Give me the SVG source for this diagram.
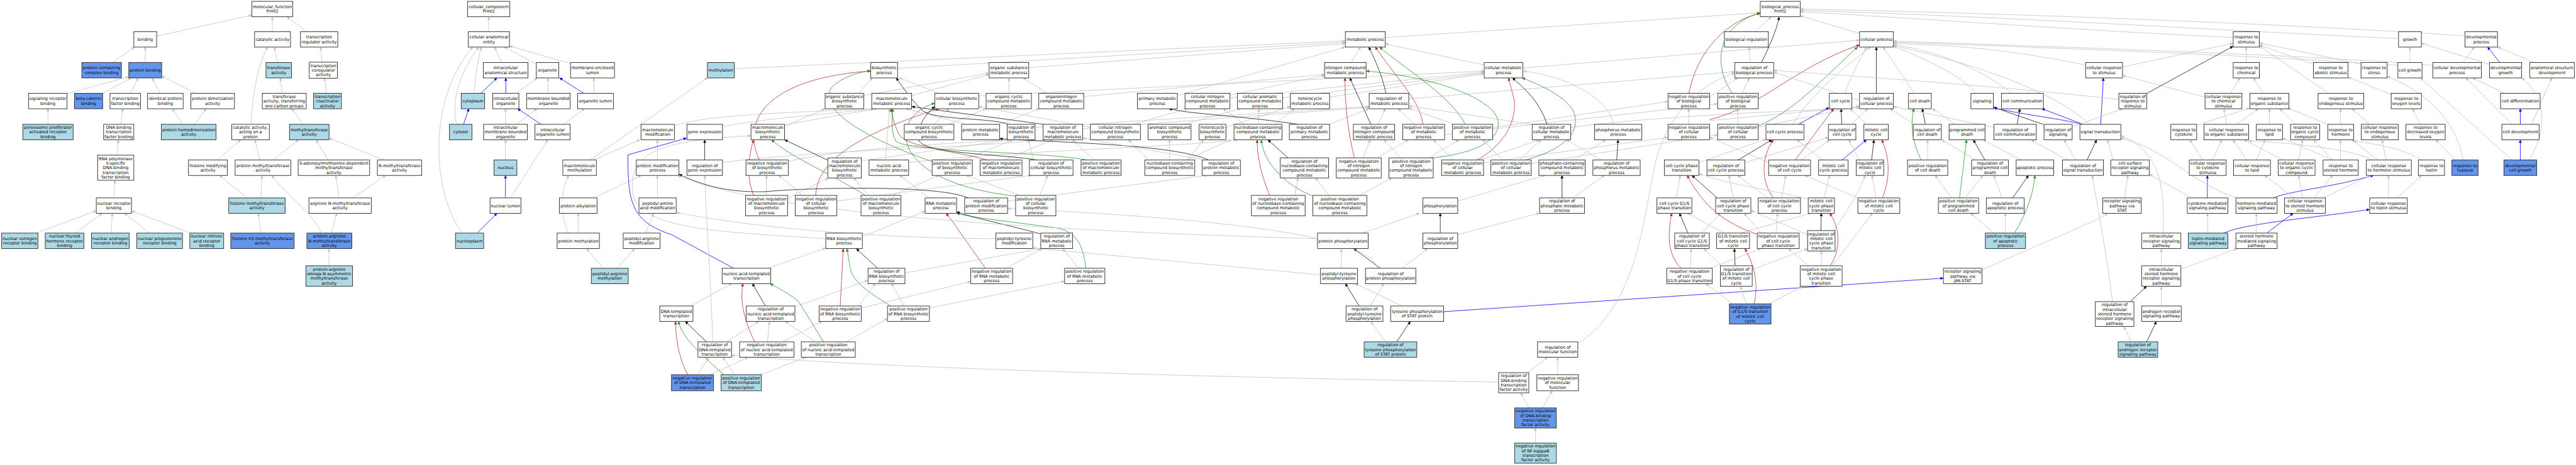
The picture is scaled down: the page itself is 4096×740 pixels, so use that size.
<svg xmlns="http://www.w3.org/2000/svg" width="4096" height="740" viewBox="0 0 4096 740">
<defs>
<style>
text{font-family:"DejaVu Sans","Liberation Sans",sans-serif;font-size:12.2px;text-anchor:middle;fill:#000}
rect{fill:#fff;stroke:#1a1a1a;stroke-width:1.6}
rect.l{fill:#add8e6}
rect.c{fill:#6495ed}
path{fill:none;stroke-width:1.6}
.e{stroke:#c4c4c4;marker-end:url(#mg)}
.k{stroke:#000;stroke-width:1.4;marker-end:url(#mk)}
.r{stroke:#b22222;stroke-width:1.4;marker-end:url(#mr)}
.g{stroke:#228b22;stroke-width:1.4;marker-end:url(#mgr)}
.b{stroke:#0000ff;stroke-width:1.5;marker-end:url(#mb)}
</style>
<marker id="mg" viewBox="0 0 10 10" refX="10" refY="5" markerWidth="13" markerHeight="9" markerUnits="userSpaceOnUse" orient="auto"><path d="M0,0L10,5L0,10z" style="fill:#c4c4c4;stroke:none"/></marker>
<marker id="mk" viewBox="0 0 10 10" refX="10" refY="5" markerWidth="13" markerHeight="9" markerUnits="userSpaceOnUse" orient="auto"><path d="M0,0L10,5L0,10z" style="fill:#000;stroke:none"/></marker>
<marker id="mr" viewBox="0 0 10 10" refX="10" refY="5" markerWidth="13" markerHeight="9" markerUnits="userSpaceOnUse" orient="auto"><path d="M0,0L10,5L0,10z" style="fill:#b22222;stroke:none"/></marker>
<marker id="mgr" viewBox="0 0 10 10" refX="10" refY="5" markerWidth="13" markerHeight="9" markerUnits="userSpaceOnUse" orient="auto"><path d="M0,0L10,5L0,10z" style="fill:#228b22;stroke:none"/></marker>
<marker id="mb" viewBox="0 0 10 10" refX="10" refY="5" markerWidth="13" markerHeight="9" markerUnits="userSpaceOnUse" orient="auto"><path d="M0,0L10,5L0,10z" style="fill:#0000ff;stroke:none"/></marker>
</defs>
<rect x="0" y="0" width="4096" height="740" style="fill:#fff;stroke:none"/>
<g transform="scale(0.533333)">
<g id="connectors">
<path class="e" d="M467,108L751,45"/>
<path class="e" d="M812,95L812,50"/>
<path class="e" d="M916,95L855,50"/>
<path class="e" d="M335,187L401,140"/>
<path class="e" d="M433,187L433,140"/>
<path class="e" d="M200,279L384,229"/>
<path class="e" d="M306,279L392,232"/>
<path class="e" d="M389,279L412,232"/>
<path class="e" d="M478,279L453,232"/>
<path class="e" d="M584,279L482,227"/>
<path class="e" d="M827,187L818,140"/>
<path class="e" d="M749,371C752,280 770,190 798,140"/>
<path class="e" d="M960,186L956,140"/>
<path class="e" d="M973,279L968,232"/>
<path class="e" d="M841,279L836,232"/>
<path class="e" d="M143,371L143,324"/>
<path class="e" d="M360,371L366,324"/>
<path class="e" d="M545,371L514,324"/>
<path class="e" d="M580,371L615,324"/>
<path class="e" d="M903,371L870,324"/>
<path class="e" d="M349,463L353,417"/>
<path class="e" d="M647,478L718,417"/>
<path class="e" d="M775,478L760,417"/>
<path class="e" d="M814,478L890,417"/>
<path class="e" d="M979,478L942,417"/>
<path class="e" d="M1147,478L981,412"/>
<path class="e" d="M339,591L343,538"/>
<path class="e" d="M737,591L654,523"/>
<path class="e" d="M778,591L781,523"/>
<path class="e" d="M1011,591L1001,523"/>
<path class="e" d="M1051,591L1150,523"/>
<path class="e" d="M109,695L287,629"/>
<path class="e" d="M225,695L305,636"/>
<path class="e" d="M331,695L335,636"/>
<path class="e" d="M445,695L371,636"/>
<path class="e" d="M567,695L392,629"/>
<path class="e" d="M778,695L770,636"/>
<path class="e" d="M957,695C940,640 850,580 810,523"/>
<path class="e" d="M988,695L1004,636"/>
<path class="e" d="M981,793L981,742"/>
<path class="e" d="M1457,95L1457,50"/>
<path class="e" d="M1495,187L1474,140"/>
<path class="e" d="M1600,192L1503,140"/>
<path class="e" d="M1702,190L1519,137"/>
<path class="e" d="M1413,279C1418,220 1425,180 1435,140"/>
<path class="e" d="M1362,371C1340,300 1380,200 1428,140"/>
<path class="e" d="M1378,695C1290,580 1270,300 1410,140"/>
<path class="b" d="M1508,279L1508,232"/>
<path class="b" d="M1433,279L1482,232"/>
<path class="e" d="M1539,279L1602,232"/>
<path class="e" d="M1634,279L1634,232"/>
<path class="b" d="M1741,279L1668,232"/>
<path class="e" d="M1772,279L1770,232"/>
<path class="b" d="M1382,371L1398,324"/>
<path class="e" d="M1507,371L1507,324"/>
<path class="e" d="M1540,371L1602,324"/>
<path class="b" d="M1613,371L1543,324"/>
<path class="e" d="M1680,371L1743,324"/>
<path class="e" d="M1507,478L1507,417"/>
<path class="b" d="M1507,591L1507,523"/>
<path class="e" d="M1522,591L1633,417"/>
<path class="b" d="M1423,695L1482,636"/>
<path class="e" d="M1768,478L1908,417"/>
<path class="e" d="M1758,478L2109,232"/>
<path class="e" d="M1960,478L1960,417"/>
<path class="e" d="M2011,376C2100,340 2400,335 2608,324"/>
<path class="e" d="M2154,378C2300,350 2500,338 2615,324"/>
<path class="e" d="M2339,372L2605,326"/>
<path class="e" d="M2339,378L2460,324"/>
<path class="e" d="M2560,279L2601,232"/>
<path class="e" d="M2575,285L2949,218"/>
<path class="k" d="M2101,478L2101,417"/>
<path class="e" d="M2154,485C2400,450 2900,440 3118,417"/>
<path class="r" d="M2264,478C2200,340 2320,230 2596,212"/>
<path class="e" d="M2350,482C2500,445 2800,430 3010,417"/>
<path class="k" d="M2468,478L2339,417"/>
<path class="e" d="M2568,480L3012,417"/>
<path class="r" d="M2247,583C2225,530 2230,470 2247,417"/>
<path class="e" d="M2285,583L2285,523"/>
<path class="e" d="M2348,592L2470,531"/>
<path class="r" d="M2432,583C2435,480 2560,400 2800,324"/>
<path class="e" d="M2394,583L2321,523"/>
<path class="e" d="M2495,600L3075,523"/>
<path class="e" d="M1770,591L1913,523"/>
<path class="e" d="M1724,695L1724,636"/>
<path class="e" d="M1694,695C1670,640 1670,570 1696,523"/>
<path class="e" d="M1960,591L1960,523"/>
<path class="e" d="M1925,695L1949,636"/>
<path class="e" d="M1799,801L1749,742"/>
<path class="e" d="M1839,801L1892,742"/>
<path class="e" d="M2288,801L2462,740"/>
<path class="b" d="M2188,801L2002,700C1880,661 1872,600 1872,462L2047,412"/>
<path class="e" d="M2462,712C2100,690 1885,680 1885,560C1885,460 1950,420 2239,405"/>
<path class="e" d="M2571,706L2758,630"/>
<path class="e" d="M2060,913L2182,846"/>
<path class="k" d="M2282,913L2243,846"/>
<path class="e" d="M2370,916L2588,836"/>
<path class="r" d="M2505,913L2514,742"/>
<path class="e" d="M2560,913L2610,846"/>
<path class="e" d="M2568,919L2894,840"/>
<path class="k" d="M2106,1020L2043,959"/>
<path class="e" d="M2166,1020L2262,959"/>
<path class="e" d="M2125,1020C2118,800 2105,650 2101,523"/>
<path class="r" d="M2250,1020C2220,960 2205,900 2215,846"/>
<path class="e" d="M2288,1020L2294,959"/>
<path class="e" d="M2333,1020L2451,959"/>
<path class="g" d="M2455,1020L2382,901C2360,880 2320,860 2296,846"/>
<path class="e" d="M2431,1020L2341,959"/>
<path class="e" d="M2524,1020L2646,950"/>
<path class="r" d="M2050,1118C2020,1060 2015,1000 2014,959"/>
<path class="e" d="M2080,1118L2113,1066"/>
<path class="e" d="M2117,1118L2231,1066"/>
<path class="g" d="M2158,1118C2080,1050 2030,1000 2023,959"/>
<path class="e" d="M2190,1118L2155,1066"/>
<path class="e" d="M2268,1118L2402,1066"/>
<path class="e" d="M4468,1140C3800,1130 2600,1100 2181,1060"/>
<path class="e" d="M2676,204L4011,126"/>
<path class="e" d="M3067,202L4011,130"/>
<path class="e" d="M2189,205L4011,122"/>
<path class="e" d="M2718,285L2949,222"/>
<path class="e" d="M2801,279L2681,232"/>
<path class="e" d="M2918,286L4425,212"/>
<path class="e" d="M3008,279L3008,232"/>
<path class="e" d="M3123,279L3050,232"/>
<path class="e" d="M3231,288L3949,222"/>
<path class="e" d="M3510,285L4011,140"/>
<path class="e" d="M3667,284L3949,225"/>
<path class="e" d="M3667,292L4425,215"/>
<path class="e" d="M3824,292L4425,218"/>
<path class="e" d="M2829,371L2940,324"/>
<path class="e" d="M2785,371L2830,324"/>
<path class="e" d="M2980,371L3099,324"/>
<path class="e" d="M2880,371L2700,324"/>
<path class="k" d="M3007,371C2950,350 2790,360 2750,330C2720,300 2690,260 2672,232"/>
<path class="e" d="M3086,380L4082,318"/>
<path class="k" d="M3110,371C3000,355 2800,330 2718,318"/>
<path class="e" d="M3228,384L4082,320"/>
<path class="e" d="M3380,371L3540,324"/>
<path class="e" d="M3251,380L2918,318"/>
<path class="e" d="M3530,371L3700,324"/>
<path class="e" d="M3655,380L3847,318"/>
<path class="e" d="M3752,371L3753,324"/>
<path class="e" d="M3711,371L3646,324"/>
<path class="e" d="M3800,371L3860,324"/>
<path class="k" d="M3870,371C3700,345 3540,340 3485,324"/>
<path class="e" d="M2709,485C3000,450 3500,440 3690,417"/>
<path class="e" d="M2640,478L2652,324"/>
<path class="g" d="M2779,482C2600,420 2430,330 2480,260C2510,230 2560,215 2596,211"/>
<path class="e" d="M2870,478L3020,417"/>
<path class="r" d="M2944,478C2850,450 2700,440 2680,400C2665,370 2660,345 2656,324"/>
<path class="e" d="M2990,478L3140,417"/>
<path class="k" d="M3094,478C3000,460 2760,460 2740,420C2730,380 2760,340 2787,318"/>
<path class="e" d="M3082,478L3066,417"/>
<path class="g" d="M3244,478C3100,450 2700,455 2670,420C2655,390 2660,350 2662,324"/>
<path class="e" d="M3262,478L3197,417"/>
<path class="e" d="M3535,478L3670,417"/>
<path class="e" d="M3487,478L3487,417"/>
<path class="e" d="M3540,478L3588,417"/>
<path class="e" d="M3425,478L3364,417"/>
<path class="k" d="M3605,478C3500,430 3150,425 2980,414"/>
<path class="e" d="M3595,478L3228,412"/>
<path class="k" d="M3840,471L3780,417"/>
<path class="g" d="M2580,583C2480,520 2360,470 2300,417"/>
<path class="e" d="M2590,583L2545,531"/>
<path class="e" d="M2660,583L2800,523"/>
<path class="e" d="M2772,591L2682,523"/>
<path class="k" d="M2887,591C2800,550 2400,560 2280,572C2150,575 2080,545 2024,520"/>
<path class="e" d="M3004,600L3600,523"/>
<path class="g" d="M3027,585C2800,560 2700,480 2700,400C2700,360 2740,320 2787,308"/>
<path class="e" d="M3101,583L3123,523"/>
<path class="e" d="M3040,583L2880,523"/>
<path class="r" d="M3785,583C3760,520 3748,470 3748,417"/>
<path class="e" d="M3860,583L3870,531"/>
<path class="r" d="M2938,801L2858,687C2845,665 2830,650 2821,636"/>
<path class="e" d="M2999,801L3107,742"/>
<path class="g" d="M3237,801C3230,720 3200,690 3150,680C3000,660 2900,650 2852,636"/>
<path class="e" d="M3217,801L3168,742"/>
<path class="k" d="M3103,698C3000,670 2900,650 2852,632"/>
<path class="k" d="M2617,801L2553,742"/>
<path class="e" d="M2699,814L3103,742"/>
<path class="e" d="M2695,913L2658,846"/>
<path class="g" d="M2656,913C2600,880 2540,840 2535,800L2525,742"/>
<path class="e" d="M2771,919L3174,839"/>
<path class="e" d="M2969,712C2700,712 2300,690 2016,634"/>
<path class="e" d="M3928,712C3300,695 2300,650 2020,523"/>
<path class="e" d="M4028,187L4056,140"/>
<path class="e" d="M4425,194L4130,131"/>
<path class="e" d="M4540,203L5544,120"/>
<path class="e" d="M3964,290L4425,220"/>
<path class="k" d="M4132,279C4120,220 4095,170 4081,140"/>
<path class="e" d="M4200,295L5172,214"/>
<path class="e" d="M3964,371L4081,324"/>
<path class="k" d="M4087,371L4024,232"/>
<path class="e" d="M4109,371L4130,324"/>
<path class="r" d="M4242,371C4235,300 4160,230 4100,140"/>
<path class="e" d="M4217,371L4168,324"/>
<path class="e" d="M4307,402L4973,303"/>
<path class="g" d="M4369,371C4320,280 4180,200 4113,140"/>
<path class="e" d="M4335,371L4200,322"/>
<path class="e" d="M4450,385L5121,310"/>
<path class="k" d="M4612,371C4590,300 4540,260 4509,232"/>
<path class="e" d="M4568,371L4200,316"/>
<path class="e" d="M4683,380C5000,340 5400,330 5544,322"/>
<path class="e" d="M4811,371C4790,280 4650,225 4542,212"/>
<path class="e" d="M5097,360L5544,318"/>
<path class="e" d="M5035,371L5035,324"/>
<path class="r" d="M5097,357C5250,320 5350,200 5544,134"/>
<path class="r" d="M4038,471C4015,380 4010,300 4010,232"/>
<path class="e" d="M4064,471L4085,417"/>
<path class="e" d="M4105,471L4199,417"/>
<path class="g" d="M4268,471C4440,455 4500,390 4450,330C4380,260 4200,222 4073,212"/>
<path class="e" d="M4175,471L4126,417"/>
<path class="e" d="M4260,471L4350,417"/>
<path class="r" d="M4403,478C4470,440 4520,380 4515,300L4497,232"/>
<path class="e" d="M4334,478L4273,417"/>
<path class="e" d="M4410,478L4590,417"/>
<path class="e" d="M4423,485L4973,410"/>
<path class="g" d="M4546,478C4650,450 4720,400 4690,330C4660,280 4580,250 4538,232"/>
<path class="e" d="M4530,478L4595,417"/>
<path class="e" d="M4481,478L4420,417"/>
<path class="e" d="M4565,488L5121,402"/>
<path class="e" d="M4693,478L4787,417"/>
<path class="k" d="M4820,478L4824,417"/>
<path class="e" d="M4775,478L4669,417"/>
<path class="e" d="M5065,485L5265,415"/>
<path class="k" d="M5181,478L5283,417"/>
<path class="e" d="M5202,485L5451,410"/>
<path class="g" d="M3914,585C3850,560 3770,500 3760,417"/>
<path class="e" d="M3962,583L3922,531"/>
<path class="e" d="M4052,583L4150,531"/>
<path class="e" d="M4346,600L4607,523"/>
<path class="k" d="M4657,591L4657,523"/>
<path class="e" d="M4689,591L4783,523"/>
<path class="e" d="M4998,591L5009,523"/>
<path class="k" d="M5120,591L5044,523"/>
<path class="e" d="M5167,591L5155,523"/>
<path class="e" d="M4064,695L4232,636"/>
<path class="k" d="M4294,695L4294,636"/>
<path class="e" d="M4346,700L4590,636"/>
<path class="k" d="M5032,695L5007,636"/>
<path class="e" d="M5073,695L5130,636"/>
<path class="e" d="M3999,801L3999,742"/>
<path class="e" d="M3937,820L3079,740"/>
<path class="k" d="M4116,801L4036,742"/>
<path class="e" d="M4179,801L4256,742"/>
<path class="e" d="M4106,801C4090,700 3600,650 3004,622"/>
<path class="k" d="M4052,913L4011,846"/>
<path class="e" d="M4085,913L4126,846"/>
<path class="e" d="M4179,913L4040,846"/>
<path class="b" d="M4304,930L5794,830"/>
<path class="e" d="M4130,1020L4087,959"/>
<path class="k" d="M4164,1020L4205,959"/>
<path class="e" d="M4704,1025C4900,900 4900,600 4945,450C5000,300 5100,240 5172,218"/>
<path class="e" d="M4554,1112L4614,1066"/>
<path class="e" d="M4644,1118L4644,1066"/>
<path class="e" d="M4558,1217L4534,1172"/>
<path class="e" d="M4599,1217L4628,1166"/>
<path class="e" d="M4578,1322L4578,1277"/>
<path class="r" d="M5013,801C4970,760 4972,700 4984,636"/>
<path class="e" d="M5040,801L5042,742"/>
<path class="e" d="M5097,801L5250,742"/>
<path class="e" d="M5232,95L5281,50"/>
<path class="e" d="M5544,100L5367,47"/>
<path class="e" d="M7349,107C6800,70 6000,40 5367,27"/>
<path class="e" d="M7151,115C6600,90 6000,50 5367,31"/>
<path class="e" d="M6658,112C6200,90 5800,60 5367,35"/>
<path class="e" d="M4130,112L5248,38"/>
<path class="r" d="M5035,279C5060,150 5150,60 5248,40"/>
<path class="g" d="M5165,279C5110,200 5110,80 5248,38"/>
<path class="k" d="M5251,187C5280,130 5300,80 5304,50"/>
<path class="e" d="M5218,187L5214,140"/>
<path class="e" d="M5193,279L5216,232"/>
<path class="e" d="M5097,290L5181,232"/>
<path class="k" d="M5594,279L5594,140"/>
<path class="e" d="M5544,300L5288,215"/>
<path class="e" d="M5500,279C5520,220 5545,180 5565,140"/>
<path class="e" d="M5708,279L5614,140"/>
<path class="e" d="M5345,371C5400,280 5500,200 5577,140"/>
<path class="g" d="M5242,376C5350,330 5420,250 5538,140"/>
<path class="e" d="M6218,194C5950,140 5800,135 5645,130"/>
<path class="b" d="M6263,371L6271,232"/>
<path class="e" d="M6328,200L6658,129"/>
<path class="e" d="M5890,279C5850,220 5700,160 5645,138"/>
<path class="e" d="M6000,279C5900,200 5750,145 5645,134"/>
<path class="e" d="M6230,371C6100,250 5800,170 5645,136"/>
<path class="b" d="M5362,371L5453,321"/>
<path class="k" d="M5491,371L5489,324"/>
<path class="e" d="M5518,371L5569,324"/>
<path class="e" d="M5565,371L5516,324"/>
<path class="k" d="M5740,371L5731,324"/>
<path class="e" d="M5708,371L5634,324"/>
<path class="e" d="M5830,371L5761,324"/>
<path class="k" d="M6014,371L6022,324"/>
<path class="e" d="M5945,380L5645,318"/>
<path class="k" d="M6091,371L5944,320"/>
<path class="b" d="M6206,371C6150,355 6050,345 5944,322"/>
<path class="b" d="M6210,371L6087,324"/>
<path class="e" d="M5242,380L5544,316"/>
<path class="e" d="M5181,371L5181,324"/>
<path class="r" d="M5352,478L5467,324"/>
<path class="e" d="M5369,478L5455,417"/>
<path class="e" d="M5273,485L5097,410"/>
<path class="e" d="M5434,478L5357,417"/>
<path class="b" d="M5491,478L5565,417"/>
<path class="k" d="M5580,478L5587,417"/>
<path class="e" d="M5544,478L5512,417"/>
<path class="g" d="M5728,478C5700,420 5695,370 5706,324"/>
<path class="e" d="M5747,478L5747,417"/>
<path class="k" d="M5918,478L5883,417"/>
<path class="e" d="M5891,478L5789,417"/>
<path class="e" d="M6026,478L5912,417"/>
<path class="k" d="M6222,478L6251,417"/>
<path class="e" d="M6189,478L6153,417"/>
<path class="e" d="M6165,478L6055,417"/>
<path class="e" d="M6300,478L6283,417"/>
<path class="e" d="M5312,591L5324,523"/>
<path class="e" d="M5271,591L5180,523"/>
<path class="r" d="M5287,591C5250,540 5250,470 5287,417"/>
<path class="e" d="M5438,591L5455,523"/>
<path class="e" d="M5392,594C5300,570 5150,550 5065,518"/>
<path class="e" d="M5593,591L5581,523"/>
<path class="r" d="M5612,591C5640,520 5630,460 5610,417"/>
<path class="e" d="M5540,591L5381,523"/>
<path class="g" d="M5842,591L5863,417"/>
<path class="e" d="M5859,591L5912,523"/>
<path class="e" d="M5818,591L5769,523"/>
<path class="k" d="M6000,591L6048,523"/>
<path class="e" d="M5969,591L5944,523"/>
<path class="e" d="M6334,591L6344,523"/>
<path class="e" d="M5140,695L5030,636"/>
<path class="e" d="M5190,695L5400,636"/>
<path class="e" d="M5295,695L5300,636"/>
<path class="r" d="M5242,700C5150,670 5080,620 5030,523"/>
<path class="e" d="M5250,695L5200,636"/>
<path class="k" d="M5429,688L5430,636"/>
<path class="e" d="M5465,690C5500,640 5540,580 5561,523"/>
<path class="e" d="M5389,700L5220,628"/>
<path class="g" d="M6006,695C6040,640 6062,580 6067,523"/>
<path class="e" d="M5979,695L5979,636"/>
<path class="e" d="M5944,695L5875,636"/>
<path class="k" d="M5173,793L5171,742"/>
<path class="e" d="M5140,800L5080,742"/>
<path class="e" d="M5224,805L5389,742"/>
<path class="e" d="M5392,793L5332,742"/>
<path class="e" d="M5430,793L5430,749"/>
<path class="r" d="M5457,793C5490,740 5485,680 5455,636"/>
<path class="e" d="M5463,793L5583,636"/>
<path class="e" d="M5206,907L5189,854"/>
<path class="e" d="M5275,907L5373,854"/>
<path class="r" d="M5230,907C5245,840 5225,780 5202,742"/>
<path class="e" d="M5165,907L5085,846"/>
<path class="e" d="M5909,805C6100,720 6230,670 6285,636"/>
<path class="e" d="M6298,900C6280,750 6250,600 6238,523"/>
<path class="k" d="M6351,900L6400,854"/>
<path class="e" d="M6354,1020L6332,974"/>
<path class="k" d="M6400,1020L6429,959"/>
<path class="e" d="M6444,913L6444,854"/>
<path class="e" d="M6444,793L6444,742"/>
<path class="e" d="M6502,803L6669,742"/>
<path class="e" d="M6449,695C6455,560 6440,450 6323,405"/>
<path class="e" d="M6583,695L6581,636"/>
<path class="b" d="M6631,695C6700,665 6900,650 7065,625"/>
<path class="e" d="M6727,695L6727,636"/>
<path class="b" d="M6759,695L6837,636"/>
<path class="b" d="M6581,591L6581,523"/>
<path class="e" d="M6535,591L6408,520"/>
<path class="b" d="M6778,591C6820,570 6950,560 7077,523"/>
<path class="e" d="M6669,591C6520,540 6470,450 6323,412"/>
<path class="e" d="M6841,591L6751,523"/>
<path class="e" d="M6865,591L6853,523"/>
<path class="e" d="M6898,591L6955,523"/>
<path class="e" d="M6926,591L7069,523"/>
<path class="e" d="M7121,591L7121,523"/>
<path class="e" d="M7147,591L7220,523"/>
<path class="e" d="M6567,478L6529,417"/>
<path class="e" d="M6596,478L6624,417"/>
<path class="e" d="M6698,478L6657,417"/>
<path class="e" d="M6727,478L6753,417"/>
<path class="e" d="M6808,478L6690,417"/>
<path class="e" d="M6853,478L6865,417"/>
<path class="e" d="M6955,478L6805,412"/>
<path class="e" d="M6955,478L6898,417"/>
<path class="e" d="M6978,478L6978,417"/>
<path class="e" d="M7090,478L7012,417"/>
<path class="e" d="M7114,478L7102,417"/>
<path class="e" d="M7077,478C7000,440 6800,425 6704,420"/>
<path class="e" d="M7220,478C7160,440 7080,430 7017,420"/>
<path class="e" d="M7322,478L7261,417"/>
<path class="e" d="M7343,478C7330,380 7250,280 7117,228"/>
<path class="b" d="M7514,478L7514,417"/>
<path class="e" d="M7490,478L7216,232"/>
<path class="e" d="M7539,478C7590,400 7600,300 7518,232"/>
<path class="b" d="M7514,371L7514,324"/>
<path class="e" d="M7547,371L7608,232"/>
<path class="e" d="M7469,279L7371,232"/>
<path class="e" d="M7490,371L7351,232"/>
<path class="e" d="M7343,187L7377,140"/>
<path class="b" d="M7453,187L7416,140"/>
<path class="e" d="M7422,192L7219,129"/>
<path class="e" d="M7557,187L7446,140"/>
<path class="e" d="M7185,187L7185,140"/>
<path class="e" d="M7149,195C6800,170 6200,145 5645,126"/>
<path class="e" d="M7253,195C6900,165 6200,142 5645,123"/>
<path class="e" d="M7041,192L6736,128"/>
<path class="e" d="M6897,192L6736,134"/>
<path class="e" d="M6697,187L6697,140"/>
<path class="e" d="M6649,279L6678,232"/>
<path class="e" d="M6574,290L6328,225"/>
<path class="e" d="M6747,279L6718,232"/>
<path class="e" d="M6943,279L6736,137"/>
<path class="e" d="M7129,282L7000,230"/>
<path class="e" d="M6549,374L6708,322"/>
<path class="e" d="M6637,371L6631,324"/>
<path class="e" d="M6669,371L6733,324"/>
<path class="e" d="M6766,371L6766,324"/>
<path class="e" d="M6845,371L6796,324"/>
<path class="e" d="M6940,371L6820,322"/>
<path class="e" d="M6978,371L6978,324"/>
<path class="e" d="M7065,371L7012,324"/>
<path class="e" d="M7216,371L7192,324"/>
<path class="k" d="M6400,279L6658,138"/>
<path class="e" d="M6317,297C6000,260 5500,225 5288,210"/>
<path class="e" d="M6178,378L6330,324"/>
</g>
<g id="n-mf" transform="translate(812,27)"><rect x="-61" y="-23" width="122" height="46"/><text y="-2.5"><tspan x="0">molecular_function</tspan><tspan x="0" dy="13.8">Prmt2</tspan></text></g>
<g id="n-binding" transform="translate(433,117.5)"><rect x="-34" y="-23" width="68" height="46"/><text y="4.4">binding</text></g>
<g id="n-catalytic" transform="translate(812.5,117.5)"><rect x="-53.5" y="-23" width="107" height="46"/><text y="4.4">catalytic activity</text></g>
<g id="n-treg" transform="translate(951.5,117.5)"><rect x="-55.5" y="-23" width="111" height="46"/><text y="-2.5"><tspan x="0">transcription</tspan><tspan x="0" dy="13.8">regulator activity</tspan></text></g>
<g id="n-pccb" transform="translate(303,209.5)"><rect class="c" x="-59" y="-23" width="118" height="46"/><text y="-2.5"><tspan x="0">protein-containing</tspan><tspan x="0" dy="13.8">complex binding</tspan></text></g>
<g id="n-pb" transform="translate(433,209.5)"><rect class="c" x="-49" y="-23" width="98" height="46"/><text y="4.4">protein binding</text></g>
<g id="n-transferase" transform="translate(831,209.5)"><rect class="l" x="-38" y="-23" width="76" height="46"/><text y="-2.5"><tspan x="0">transferase</tspan><tspan x="0" dy="13.8">activity</tspan></text></g>
<g id="n-tcoreg" transform="translate(964,209.5)"><rect x="-42" y="-24" width="84" height="48"/><text y="-9.4"><tspan x="0">transcription</tspan><tspan x="0" dy="13.8">coregulator</tspan><tspan x="0" dy="13.8">activity</tspan></text></g>
<g id="n-srb" transform="translate(142.5,301.5)"><rect x="-57.5" y="-23" width="115" height="46"/><text y="-2.5"><tspan x="0">signaling receptor</tspan><tspan x="0" dy="13.8">binding</tspan></text></g>
<g id="n-bcat" transform="translate(264,301.5)"><rect class="c" x="-42" y="-23" width="84" height="46"/><text y="-2.5"><tspan x="0">beta-catenin</tspan><tspan x="0" dy="13.8">binding</tspan></text></g>
<g id="n-tfb" transform="translate(373.5,301.5)"><rect x="-45.5" y="-23" width="91" height="46"/><text y="-2.5"><tspan x="0">transcription</tspan><tspan x="0" dy="13.8">factor binding</tspan></text></g>
<g id="n-ipb" transform="translate(493,301.5)"><rect x="-53" y="-23" width="106" height="46"/><text y="-2.5"><tspan x="0">identical protein</tspan><tspan x="0" dy="13.8">binding</tspan></text></g>
<g id="n-pda" transform="translate(634,301.5)"><rect x="-65" y="-23" width="130" height="46"/><text y="-2.5"><tspan x="0">protein dimerization</tspan><tspan x="0" dy="13.8">activity</tspan></text></g>
<g id="n-t1c" transform="translate(847.5,301.5)"><rect x="-65.5" y="-23" width="131" height="46"/><text y="-9.4"><tspan x="0">transferase</tspan><tspan x="0" dy="13.8">activity, transferring</tspan><tspan x="0" dy="13.8">one-carbon groups</tspan></text></g>
<g id="n-tcoact" transform="translate(976.5,301.5)"><rect class="l" x="-41.5" y="-23" width="83" height="46"/><text y="-9.4"><tspan x="0">transcription</tspan><tspan x="0" dy="13.8">coactivator</tspan><tspan x="0" dy="13.8">activity</tspan></text></g>
<g id="n-ppar" transform="translate(143,394)"><rect class="l" x="-75" y="-23" width="150" height="46"/><text y="-9.4"><tspan x="0">peroxisome proliferator</tspan><tspan x="0" dy="13.8">activated receptor</tspan><tspan x="0" dy="13.8">binding</tspan></text></g>
<g id="n-dbtfb" transform="translate(354,394)"><rect x="-45" y="-23" width="90" height="46"/><text y="-9.4"><tspan x="0">DNA-binding</tspan><tspan x="0" dy="13.8">transcription</tspan><tspan x="0" dy="13.8">factor binding</tspan></text></g>
<g id="n-phd" transform="translate(562.5,394)"><rect class="l" x="-81.5" y="-23" width="163" height="46"/><text y="-2.5"><tspan x="0">protein homodimerization</tspan><tspan x="0" dy="13.8">activity</tspan></text></g>
<g id="n-cap" transform="translate(747,394)"><rect x="-56" y="-23" width="112" height="46"/><text y="-9.4"><tspan x="0">catalytic activity,</tspan><tspan x="0" dy="13.8">acting on a</tspan><tspan x="0" dy="13.8">protein</tspan></text></g>
<g id="n-mta" transform="translate(922,394)"><rect class="l" x="-59" y="-23" width="118" height="46"/><text y="-2.5"><tspan x="0">methyltransferase</tspan><tspan x="0" dy="13.8">activity</tspan></text></g>
<g id="n-rnap2" transform="translate(345,500.5)"><rect x="-54" y="-37.5" width="108" height="75"/><text y="-23.2"><tspan x="0">RNA polymerase</tspan><tspan x="0" dy="13.8">II-specific</tspan><tspan x="0" dy="13.8">DNA-binding</tspan><tspan x="0" dy="13.8">transcription</tspan><tspan x="0" dy="13.8">factor binding</tspan></text></g>
<g id="n-hma" transform="translate(620,500.5)"><rect x="-58" y="-23" width="116" height="46"/><text y="-2.5"><tspan x="0">histone modifying</tspan><tspan x="0" dy="13.8">activity</tspan></text></g>
<g id="n-pmta" transform="translate(784,500.5)"><rect x="-83" y="-23" width="166" height="46"/><text y="-2.5"><tspan x="0">protein methyltransferase</tspan><tspan x="0" dy="13.8">activity</tspan></text></g>
<g id="n-sam" transform="translate(995.5,500.5)"><rect x="-106.5" y="-23" width="213" height="46"/><text y="-9.4"><tspan x="0">S-adenosylmethionine-dependent</tspan><tspan x="0" dy="13.8">methyltransferase</tspan><tspan x="0" dy="13.8">activity</tspan></text></g>
<g id="n-nmta" transform="translate(1191,500.5)"><rect x="-66" y="-23" width="132" height="46"/><text y="-2.5"><tspan x="0">N-methyltransferase</tspan><tspan x="0" dy="13.8">activity</tspan></text></g>
<g id="n-nrb" transform="translate(339.5,613.5)"><rect x="-52.5" y="-23" width="105" height="46"/><text y="-2.5"><tspan x="0">nuclear receptor</tspan><tspan x="0" dy="13.8">binding</tspan></text></g>
<g id="n-hmta" transform="translate(766,613.5)"><rect class="l" x="-84" y="-23" width="168" height="46"/><text y="-2.5"><tspan x="0">histone methyltransferase</tspan><tspan x="0" dy="13.8">activity</tspan></text></g>
<g id="n-anmta" transform="translate(1014,613.5)"><rect x="-93" y="-23" width="186" height="46"/><text y="-2.5"><tspan x="0">arginine N-methyltransferase</tspan><tspan x="0" dy="13.8">activity</tspan></text></g>
<g id="n-neb" transform="translate(59,718.5)"><rect class="l" x="-54" y="-23" width="108" height="46"/><text y="-2.5"><tspan x="0">nuclear estrogen</tspan><tspan x="0" dy="13.8">receptor binding</tspan></text></g>
<g id="n-ntb" transform="translate(192.5,718.5)"><rect class="l" x="-57.5" y="-23" width="115" height="46"/><text y="-9.4"><tspan x="0">nuclear thyroid</tspan><tspan x="0" dy="13.8">hormone receptor</tspan><tspan x="0" dy="13.8">binding</tspan></text></g>
<g id="n-nab" transform="translate(329,718.5)"><rect class="l" x="-56" y="-23" width="112" height="46"/><text y="-2.5"><tspan x="0">nuclear androgen</tspan><tspan x="0" dy="13.8">receptor binding</tspan></text></g>
<g id="n-npb" transform="translate(476,718.5)"><rect class="l" x="-68" y="-23" width="136" height="46"/><text y="-2.5"><tspan x="0">nuclear progesterone</tspan><tspan x="0" dy="13.8">receptor binding</tspan></text></g>
<g id="n-nrab" transform="translate(616.5,718.5)"><rect class="l" x="-50.5" y="-23" width="101" height="46"/><text y="-9.4"><tspan x="0">nuclear retinoic</tspan><tspan x="0" dy="13.8">acid receptor</tspan><tspan x="0" dy="13.8">binding</tspan></text></g>
<g id="n-h3" transform="translate(782.5,718.5)"><rect class="c" x="-94.5" y="-23" width="189" height="46"/><text y="-2.5"><tspan x="0">histone H3 methyltransferase</tspan><tspan x="0" dy="13.8">activity</tspan></text></g>
<g id="n-pan" transform="translate(982,718.5)"><rect class="c" x="-67" y="-23" width="134" height="46"/><text y="-9.4"><tspan x="0">protein-arginine</tspan><tspan x="0" dy="13.8">N-methyltransferase</tspan><tspan x="0" dy="13.8">activity</tspan></text></g>
<g id="n-omega" transform="translate(981.5,823.5)"><rect class="l" x="-69.5" y="-30.5" width="139" height="61"/><text y="-16.3"><tspan x="0">protein-arginine</tspan><tspan x="0" dy="13.8">omega-N asymmetric</tspan><tspan x="0" dy="13.8">methyltransferase</tspan><tspan x="0" dy="13.8">activity</tspan></text></g>
<g id="n-cc" transform="translate(1457,27)"><rect x="-63" y="-23" width="126" height="46"/><text y="-2.5"><tspan x="0">cellular_component</tspan><tspan x="0" dy="13.8">Prmt2</tspan></text></g>
<g id="n-cae" transform="translate(1457.5,117.5)"><rect x="-61.5" y="-23" width="123" height="46"/><text y="-2.5"><tspan x="0">cellular anatomical</tspan><tspan x="0" dy="13.8">entity</tspan></text></g>
<g id="n-ias" transform="translate(1507.5,209.5)"><rect x="-66.5" y="-23" width="133" height="46"/><text y="-2.5"><tspan x="0">intracellular</tspan><tspan x="0" dy="13.8">anatomical structure</tspan></text></g>
<g id="n-organelle" transform="translate(1632.5,209.5)"><rect x="-33.5" y="-23" width="67" height="46"/><text y="4.4">organelle</text></g>
<g id="n-mel" transform="translate(1766.5,209.5)"><rect x="-65.5" y="-23" width="131" height="46"/><text y="-2.5"><tspan x="0">membrane-enclosed</tspan><tspan x="0" dy="13.8">lumen</tspan></text></g>
<g id="n-cytoplasm" transform="translate(1410,301.5)"><rect class="l" x="-35" y="-23" width="70" height="46"/><text y="4.4">cytoplasm</text></g>
<g id="n-io" transform="translate(1508,301.5)"><rect x="-39" y="-23" width="78" height="46"/><text y="-2.5"><tspan x="0">intracellular</tspan><tspan x="0" dy="13.8">organelle</tspan></text></g>
<g id="n-mbo" transform="translate(1635,301.5)"><rect x="-65" y="-23" width="130" height="46"/><text y="-2.5"><tspan x="0">membrane-bounded</tspan><tspan x="0" dy="13.8">organelle</tspan></text></g>
<g id="n-ol" transform="translate(1775.5,301.5)"><rect x="-53.5" y="-23" width="107" height="46"/><text y="4.4">organelle lumen</text></g>
<g id="n-cytosol" transform="translate(1373.5,394)"><rect class="l" x="-33.5" y="-23" width="67" height="46"/><text y="4.4">cytosol</text></g>
<g id="n-imbo" transform="translate(1507,394)"><rect x="-65" y="-23" width="130" height="46"/><text y="-9.4"><tspan x="0">intracellular</tspan><tspan x="0" dy="13.8">membrane-bounded</tspan><tspan x="0" dy="13.8">organelle</tspan></text></g>
<g id="n-iol" transform="translate(1647.5,394)"><rect x="-52.5" y="-23" width="105" height="46"/><text y="-2.5"><tspan x="0">intracellular</tspan><tspan x="0" dy="13.8">organelle lumen</tspan></text></g>
<g id="n-nucleus" transform="translate(1507,500.5)"><rect class="l" x="-34" y="-23" width="68" height="46"/><text y="4.4">nucleus</text></g>
<g id="n-nl" transform="translate(1507,613.5)"><rect x="-46" y="-23" width="92" height="46"/><text y="4.4">nuclear lumen</text></g>
<g id="n-nucleoplasm" transform="translate(1400,718.5)"><rect class="l" x="-42" y="-23" width="84" height="46"/><text y="4.4">nucleoplasm</text></g>
<g id="n-methylation" transform="translate(2149,209.5)"><rect class="l" x="-40" y="-23" width="80" height="46"/><text y="4.4">methylation</text></g>
<g id="n-mm" transform="translate(1961,394)"><rect x="-50" y="-23" width="100" height="46"/><text y="-2.5"><tspan x="0">macromolecule</tspan><tspan x="0" dy="13.8">modification</tspan></text></g>
<g id="n-ge" transform="translate(2101,394)"><rect x="-53" y="-23" width="106" height="46"/><text y="4.4">gene expression</text></g>
<g id="n-mbp" transform="translate(2289,394)"><rect x="-50" y="-23" width="100" height="46"/><text y="-9.4"><tspan x="0">macromolecule</tspan><tspan x="0" dy="13.8">biosynthetic</tspan><tspan x="0" dy="13.8">process</tspan></text></g>
<g id="n-osbp" transform="translate(2517.5,301.5)"><rect x="-57.5" y="-23" width="115" height="46"/><text y="-9.4"><tspan x="0">organic substance</tspan><tspan x="0" dy="13.8">biosynthetic</tspan><tspan x="0" dy="13.8">process</tspan></text></g>
<g id="n-mmeth" transform="translate(1728,500.5)"><rect x="-50" y="-23" width="100" height="46"/><text y="-2.5"><tspan x="0">macromolecule</tspan><tspan x="0" dy="13.8">methylation</tspan></text></g>
<g id="n-pmp" transform="translate(1960.5,500.5)"><rect x="-63.5" y="-23" width="127" height="46"/><text y="-2.5"><tspan x="0">protein modification</tspan><tspan x="0" dy="13.8">process</tspan></text></g>
<g id="n-rge" transform="translate(2101,500.5)"><rect x="-53" y="-23" width="106" height="46"/><text y="-2.5"><tspan x="0">regulation of</tspan><tspan x="0" dy="13.8">gene expression</tspan></text></g>
<g id="n-nrbp" transform="translate(2287,500.5)"><rect x="-63" y="-23" width="126" height="46"/><text y="-9.4"><tspan x="0">negative regulation</tspan><tspan x="0" dy="13.8">of biosynthetic</tspan><tspan x="0" dy="13.8">process</tspan></text></g>
<g id="n-rmbp" transform="translate(2518,501)"><rect x="-50" y="-30" width="100" height="60"/><text y="-16.3"><tspan x="0">regulation of</tspan><tspan x="0" dy="13.8">macromolecule</tspan><tspan x="0" dy="13.8">biosynthetic</tspan><tspan x="0" dy="13.8">process</tspan></text></g>
<g id="n-palk" transform="translate(1724,613.5)"><rect x="-56" y="-23" width="112" height="46"/><text y="4.4">protein alkylation</text></g>
<g id="n-pamm" transform="translate(1960.5,613.5)"><rect x="-55.5" y="-23" width="111" height="46"/><text y="-2.5"><tspan x="0">peptidyl-amino</tspan><tspan x="0" dy="13.8">acid modification</tspan></text></g>
<g id="n-nrmbp" transform="translate(2285.5,613.5)"><rect x="-62.5" y="-30.5" width="125" height="61"/><text y="-16.3"><tspan x="0">negative regulation</tspan><tspan x="0" dy="13.8">of macromolecule</tspan><tspan x="0" dy="13.8">biosynthetic</tspan><tspan x="0" dy="13.8">process</tspan></text></g>
<g id="n-nrcbp" transform="translate(2433,613.5)"><rect x="-62" y="-30.5" width="124" height="61"/><text y="-16.3"><tspan x="0">negative regulation</tspan><tspan x="0" dy="13.8">of cellular</tspan><tspan x="0" dy="13.8">biosynthetic</tspan><tspan x="0" dy="13.8">process</tspan></text></g>
<g id="n-pmeth" transform="translate(1724,718.5)"><rect x="-63" y="-23" width="126" height="46"/><text y="4.4">protein methylation</text></g>
<g id="n-pam" transform="translate(1913,718.5)"><rect x="-55" y="-23" width="110" height="46"/><text y="-2.5"><tspan x="0">peptidyl-arginine</tspan><tspan x="0" dy="13.8">modification</tspan></text></g>
<g id="n-rnabp" transform="translate(2516.5,718.5)"><rect x="-54.5" y="-23" width="109" height="46"/><text y="-2.5"><tspan x="0">RNA biosynthetic</tspan><tspan x="0" dy="13.8">process</tspan></text></g>
<g id="n-pameth" transform="translate(1818,823.5)"><rect class="l" x="-55" y="-23" width="110" height="46"/><text y="-2.5"><tspan x="0">peptidyl-arginine</tspan><tspan x="0" dy="13.8">methylation</tspan></text></g>
<g id="n-nat" transform="translate(2225.5,823.5)"><rect x="-72.5" y="-23" width="145" height="46"/><text y="-2.5"><tspan x="0">nucleic acid-templated</tspan><tspan x="0" dy="13.8">transcription</tspan></text></g>
<g id="n-dt" transform="translate(2016.5,936)"><rect x="-49.5" y="-23" width="99" height="46"/><text y="-2.5"><tspan x="0">DNA-templated</tspan><tspan x="0" dy="13.8">transcription</tspan></text></g>
<g id="n-rnat" transform="translate(2297.5,936)"><rect x="-72.5" y="-23" width="145" height="46"/><text y="-9.4"><tspan x="0">regulation of</tspan><tspan x="0" dy="13.8">nucleic acid-templated</tspan><tspan x="0" dy="13.8">transcription</tspan></text></g>
<g id="n-nrrnabp" transform="translate(2505,936)"><rect x="-63" y="-23" width="126" height="46"/><text y="-9.4"><tspan x="0">negative regulation</tspan><tspan x="0" dy="13.8">of RNA biosynthetic</tspan><tspan x="0" dy="13.8">process</tspan></text></g>
<g id="n-rdt" transform="translate(2131,1043)"><rect x="-50" y="-23" width="100" height="46"/><text y="-9.4"><tspan x="0">regulation of</tspan><tspan x="0" dy="13.8">DNA-templated</tspan><tspan x="0" dy="13.8">transcription</tspan></text></g>
<g id="n-nrnat" transform="translate(2286,1043)"><rect x="-81" y="-23" width="162" height="46"/><text y="-9.4"><tspan x="0">negative regulation</tspan><tspan x="0" dy="13.8">of nucleic acid-templated</tspan><tspan x="0" dy="13.8">transcription</tspan></text></g>
<g id="n-prnat" transform="translate(2469.5,1043)"><rect x="-80.5" y="-23" width="161" height="46"/><text y="-9.4"><tspan x="0">positive regulation</tspan><tspan x="0" dy="13.8">of nucleic acid-templated</tspan><tspan x="0" dy="13.8">transcription</tspan></text></g>
<g id="n-nrdt" transform="translate(2064.5,1142)"><rect class="c" x="-62.5" y="-24" width="125" height="48"/><text y="-9.4"><tspan x="0">negative regulation</tspan><tspan x="0" dy="13.8">of DNA-templated</tspan><tspan x="0" dy="13.8">transcription</tspan></text></g>
<g id="n-prdt" transform="translate(2210,1142)"><rect class="l" x="-60" y="-24" width="120" height="48"/><text y="-9.4"><tspan x="0">positive regulation</tspan><tspan x="0" dy="13.8">of DNA-templated</tspan><tspan x="0" dy="13.8">transcription</tspan></text></g>
<g id="n-bpbio" transform="translate(2636,209.5)"><rect x="-40" y="-23" width="80" height="46"/><text y="-2.5"><tspan x="0">biosynthetic</tspan><tspan x="0" dy="13.8">process</tspan></text></g>
<g id="n-osmp" transform="translate(3008,209.5)"><rect x="-59" y="-23" width="118" height="46"/><text y="-2.5"><tspan x="0">organic substance</tspan><tspan x="0" dy="13.8">metabolic process</tspan></text></g>
<g id="n-macmp" transform="translate(2658.5,301.5)"><rect x="-59.5" y="-23" width="119" height="46"/><text y="-2.5"><tspan x="0">macromolecule</tspan><tspan x="0" dy="13.8">metabolic process</tspan></text></g>
<g id="n-cbp" transform="translate(2852.5,301.5)"><rect x="-65.5" y="-23" width="131" height="46"/><text y="-2.5"><tspan x="0">cellular biosynthetic</tspan><tspan x="0" dy="13.8">process</tspan></text></g>
<g id="n-occmp" transform="translate(3007.5,301.5)"><rect x="-67.5" y="-23" width="135" height="46"/><text y="-9.4"><tspan x="0">organic cyclic</tspan><tspan x="0" dy="13.8">compound metabolic</tspan><tspan x="0" dy="13.8">process</tspan></text></g>
<g id="n-oncmp" transform="translate(3164,301.5)"><rect x="-67" y="-23" width="134" height="46"/><text y="-9.4"><tspan x="0">organonitrogen</tspan><tspan x="0" dy="13.8">compound metabolic</tspan><tspan x="0" dy="13.8">process</tspan></text></g>
<g id="n-pmp2" transform="translate(3450.5,301.5)"><rect x="-59.5" y="-23" width="119" height="46"/><text y="-2.5"><tspan x="0">primary metabolic</tspan><tspan x="0" dy="13.8">process</tspan></text></g>
<g id="n-cncmp" transform="translate(3600,301.5)"><rect x="-67" y="-23" width="134" height="46"/><text y="-9.4"><tspan x="0">cellular nitrogen</tspan><tspan x="0" dy="13.8">compound metabolic</tspan><tspan x="0" dy="13.8">process</tspan></text></g>
<g id="n-cacmp" transform="translate(3756.5,301.5)"><rect x="-67.5" y="-23" width="135" height="46"/><text y="-9.4"><tspan x="0">cellular aromatic</tspan><tspan x="0" dy="13.8">compound metabolic</tspan><tspan x="0" dy="13.8">process</tspan></text></g>
<g id="n-occbp" transform="translate(2770,394)"><rect x="-74" y="-23" width="148" height="46"/><text y="-9.4"><tspan x="0">organic cyclic</tspan><tspan x="0" dy="13.8">compound biosynthetic</tspan><tspan x="0" dy="13.8">process</tspan></text></g>
<g id="n-protmp" transform="translate(2923.5,394)"><rect x="-56.5" y="-23" width="113" height="46"/><text y="-2.5"><tspan x="0">protein metabolic</tspan><tspan x="0" dy="13.8">process</tspan></text></g>
<g id="n-rbp" transform="translate(3044.5,394)"><rect x="-41.5" y="-23" width="83" height="46"/><text y="-9.4"><tspan x="0">regulation of</tspan><tspan x="0" dy="13.8">biosynthetic</tspan><tspan x="0" dy="13.8">process</tspan></text></g>
<g id="n-rmmp" transform="translate(3169,394)"><rect x="-59" y="-23" width="118" height="46"/><text y="-9.4"><tspan x="0">regulation of</tspan><tspan x="0" dy="13.8">macromolecule</tspan><tspan x="0" dy="13.8">metabolic process</tspan></text></g>
<g id="n-cncbp" transform="translate(3325.5,394)"><rect x="-74.5" y="-23" width="149" height="46"/><text y="-9.4"><tspan x="0">cellular nitrogen</tspan><tspan x="0" dy="13.8">compound biosynthetic</tspan><tspan x="0" dy="13.8">process</tspan></text></g>
<g id="n-acbp" transform="translate(3487,394)"><rect x="-64" y="-23" width="128" height="46"/><text y="-9.4"><tspan x="0">aromatic compound</tspan><tspan x="0" dy="13.8">biosynthetic</tspan><tspan x="0" dy="13.8">process</tspan></text></g>
<g id="n-hbp" transform="translate(3615,394)"><rect x="-40" y="-23" width="80" height="46"/><text y="-9.4"><tspan x="0">heterocycle</tspan><tspan x="0" dy="13.8">biosynthetic</tspan><tspan x="0" dy="13.8">process</tspan></text></g>
<g id="n-nbcmp" transform="translate(3750.5,394)"><rect x="-71.5" y="-23" width="143" height="46"/><text y="-9.4"><tspan x="0">nucleobase-containing</tspan><tspan x="0" dy="13.8">compound metabolic</tspan><tspan x="0" dy="13.8">process</tspan></text></g>
<g id="n-namp" transform="translate(2650,500.5)"><rect x="-59" y="-23" width="118" height="46"/><text y="-2.5"><tspan x="0">nucleic acid</tspan><tspan x="0" dy="13.8">metabolic process</tspan></text></g>
<g id="n-prbp" transform="translate(2839,500.5)"><rect x="-60" y="-23" width="120" height="46"/><text y="-9.4"><tspan x="0">positive regulation</tspan><tspan x="0" dy="13.8">of biosynthetic</tspan><tspan x="0" dy="13.8">process</tspan></text></g>
<g id="n-nrmmp" transform="translate(2984.5,500.5)"><rect x="-62.5" y="-23" width="125" height="46"/><text y="-9.4"><tspan x="0">negative regulation</tspan><tspan x="0" dy="13.8">of macromolecule</tspan><tspan x="0" dy="13.8">metabolic process</tspan></text></g>
<g id="n-rcbp" transform="translate(3134,500.5)"><rect x="-65" y="-23" width="130" height="46"/><text y="-9.4"><tspan x="0">regulation of</tspan><tspan x="0" dy="13.8">cellular biosynthetic</tspan><tspan x="0" dy="13.8">process</tspan></text></g>
<g id="n-prmmp" transform="translate(3282.5,500.5)"><rect x="-59.5" y="-23" width="119" height="46"/><text y="-9.4"><tspan x="0">positive regulation</tspan><tspan x="0" dy="13.8">of macromolecule</tspan><tspan x="0" dy="13.8">metabolic process</tspan></text></g>
<g id="n-nbcbp" transform="translate(3487.5,500.5)"><rect x="-74.5" y="-23" width="149" height="46"/><text y="-9.4"><tspan x="0">nucleobase-containing</tspan><tspan x="0" dy="13.8">compound biosynthetic</tspan><tspan x="0" dy="13.8">process</tspan></text></g>
<g id="n-rpmp" transform="translate(3641,500.5)"><rect x="-57" y="-23" width="114" height="46"/><text y="-9.4"><tspan x="0">regulation of</tspan><tspan x="0" dy="13.8">protein metabolic</tspan><tspan x="0" dy="13.8">process</tspan></text></g>
<g id="n-rnbcmp" transform="translate(3889,501)"><rect x="-72" y="-30" width="144" height="60"/><text y="-16.3"><tspan x="0">regulation of</tspan><tspan x="0" dy="13.8">nucleobase-containing</tspan><tspan x="0" dy="13.8">compound metabolic</tspan><tspan x="0" dy="13.8">process</tspan></text></g>
<g id="n-prmbp" transform="translate(2626.5,613.5)"><rect x="-59.5" y="-30.5" width="119" height="61"/><text y="-16.3"><tspan x="0">positive regulation</tspan><tspan x="0" dy="13.8">of macromolecule</tspan><tspan x="0" dy="13.8">biosynthetic</tspan><tspan x="0" dy="13.8">process</tspan></text></g>
<g id="n-rnamp" transform="translate(2805,613.5)"><rect x="-47" y="-23" width="94" height="46"/><text y="-2.5"><tspan x="0">RNA metabolic</tspan><tspan x="0" dy="13.8">process</tspan></text></g>
<g id="n-rpmodp" transform="translate(2940,613.5)"><rect x="-64" y="-23" width="128" height="46"/><text y="-9.4"><tspan x="0">regulation of</tspan><tspan x="0" dy="13.8">protein modification</tspan><tspan x="0" dy="13.8">process</tspan></text></g>
<g id="n-prcbp" transform="translate(3088,613.5)"><rect x="-60" y="-30.5" width="120" height="61"/><text y="-16.3"><tspan x="0">positive regulation</tspan><tspan x="0" dy="13.8">of cellular</tspan><tspan x="0" dy="13.8">biosynthetic</tspan><tspan x="0" dy="13.8">process</tspan></text></g>
<g id="n-nrnbcmp" transform="translate(3811,613.5)"><rect x="-80" y="-30.5" width="160" height="61"/><text y="-16.3"><tspan x="0">negative regulation</tspan><tspan x="0" dy="13.8">of nucleobase-containing</tspan><tspan x="0" dy="13.8">compound metabolic</tspan><tspan x="0" dy="13.8">process</tspan></text></g>
<g id="n-ptm" transform="translate(3024,718.5)"><rect x="-55" y="-23" width="110" height="46"/><text y="-2.5"><tspan x="0">peptidyl-tyrosine</tspan><tspan x="0" dy="13.8">modification</tspan></text></g>
<g id="n-rrnamp" transform="translate(3150.5,718.5)"><rect x="-47.5" y="-23" width="95" height="46"/><text y="-9.4"><tspan x="0">regulation of</tspan><tspan x="0" dy="13.8">RNA metabolic</tspan><tspan x="0" dy="13.8">process</tspan></text></g>
<g id="n-rrnabp" transform="translate(2643,823.5)"><rect x="-55" y="-23" width="110" height="46"/><text y="-9.4"><tspan x="0">regulation of</tspan><tspan x="0" dy="13.8">RNA biosynthetic</tspan><tspan x="0" dy="13.8">process</tspan></text></g>
<g id="n-nrrnamp" transform="translate(2956.5,823.5)"><rect x="-62.5" y="-23" width="125" height="46"/><text y="-9.4"><tspan x="0">negative regulation</tspan><tspan x="0" dy="13.8">of RNA metabolic</tspan><tspan x="0" dy="13.8">process</tspan></text></g>
<g id="n-prrnamp" transform="translate(3234,823.5)"><rect x="-60" y="-23" width="120" height="46"/><text y="-9.4"><tspan x="0">positive regulation</tspan><tspan x="0" dy="13.8">of RNA metabolic</tspan><tspan x="0" dy="13.8">process</tspan></text></g>
<g id="n-prrnabp" transform="translate(2708.5,936)"><rect x="-62.5" y="-23" width="125" height="46"/><text y="-9.4"><tspan x="0">positive regulation</tspan><tspan x="0" dy="13.8">of RNA biosynthetic</tspan><tspan x="0" dy="13.8">process</tspan></text></g>
<g id="n-metab" transform="translate(4070.5,117.5)"><rect x="-59.5" y="-23" width="119" height="46"/><text y="4.4">metabolic process</text></g>
<g id="n-ncmp" transform="translate(4011,209.5)"><rect x="-62" y="-23" width="124" height="46"/><text y="-2.5"><tspan x="0">nitrogen compound</tspan><tspan x="0" dy="13.8">metabolic process</tspan></text></g>
<g id="n-cmp" transform="translate(4482.5,209.5)"><rect x="-57.5" y="-23" width="115" height="46"/><text y="-2.5"><tspan x="0">cellular metabolic</tspan><tspan x="0" dy="13.8">process</tspan></text></g>
<g id="n-hmp" transform="translate(3905.5,301.5)"><rect x="-58.5" y="-23" width="117" height="46"/><text y="-2.5"><tspan x="0">heterocycle</tspan><tspan x="0" dy="13.8">metabolic process</tspan></text></g>
<g id="n-rmp" transform="translate(4141,301.5)"><rect x="-59" y="-23" width="118" height="46"/><text y="-2.5"><tspan x="0">regulation of</tspan><tspan x="0" dy="13.8">metabolic process</tspan></text></g>
<g id="n-nrbiop" transform="translate(5035,301.5)"><rect x="-62" y="-23" width="124" height="46"/><text y="-9.4"><tspan x="0">negative regulation</tspan><tspan x="0" dy="13.8">of biological</tspan><tspan x="0" dy="13.8">process</tspan></text></g>
<g id="n-rpmp2" transform="translate(3904,394)"><rect x="-60" y="-23" width="120" height="46"/><text y="-9.4"><tspan x="0">regulation of</tspan><tspan x="0" dy="13.8">primary metabolic</tspan><tspan x="0" dy="13.8">process</tspan></text></g>
<g id="n-rncmp" transform="translate(4096.5,394)"><rect x="-61.5" y="-23" width="123" height="46"/><text y="-9.4"><tspan x="0">regulation of</tspan><tspan x="0" dy="13.8">nitrogen compound</tspan><tspan x="0" dy="13.8">metabolic process</tspan></text></g>
<g id="n-nrmp" transform="translate(4244.5,394)"><rect x="-62.5" y="-23" width="125" height="46"/><text y="-9.4"><tspan x="0">negative regulation</tspan><tspan x="0" dy="13.8">of metabolic</tspan><tspan x="0" dy="13.8">process</tspan></text></g>
<g id="n-prmp" transform="translate(4390,394)"><rect x="-60" y="-23" width="120" height="46"/><text y="-9.4"><tspan x="0">positive regulation</tspan><tspan x="0" dy="13.8">of metabolic</tspan><tspan x="0" dy="13.8">process</tspan></text></g>
<g id="n-rcmp" transform="translate(4625.5,394)"><rect x="-57.5" y="-23" width="115" height="46"/><text y="-9.4"><tspan x="0">regulation of</tspan><tspan x="0" dy="13.8">cellular metabolic</tspan><tspan x="0" dy="13.8">process</tspan></text></g>
<g id="n-phmp" transform="translate(4824.5,394)"><rect x="-70.5" y="-23" width="141" height="46"/><text y="-2.5"><tspan x="0">phosphorus metabolic</tspan><tspan x="0" dy="13.8">process</tspan></text></g>
<g id="n-nrcp" transform="translate(5035,394)"><rect x="-62" y="-23" width="124" height="46"/><text y="-9.4"><tspan x="0">negative regulation</tspan><tspan x="0" dy="13.8">of cellular</tspan><tspan x="0" dy="13.8">process</tspan></text></g>
<g id="n-nrncmp" transform="translate(4051,501)"><rect x="-67" y="-30" width="134" height="60"/><text y="-16.3"><tspan x="0">negative regulation</tspan><tspan x="0" dy="13.8">of nitrogen</tspan><tspan x="0" dy="13.8">compound metabolic</tspan><tspan x="0" dy="13.8">process</tspan></text></g>
<g id="n-prncmp" transform="translate(4207,501)"><rect x="-66" y="-30" width="132" height="60"/><text y="-16.3"><tspan x="0">positive regulation</tspan><tspan x="0" dy="13.8">of nitrogen</tspan><tspan x="0" dy="13.8">compound metabolic</tspan><tspan x="0" dy="13.8">process</tspan></text></g>
<g id="n-nrcmp" transform="translate(4360.5,500.5)"><rect x="-62.5" y="-23" width="125" height="46"/><text y="-9.4"><tspan x="0">negative regulation</tspan><tspan x="0" dy="13.8">of cellular</tspan><tspan x="0" dy="13.8">metabolic process</tspan></text></g>
<g id="n-prcmp" transform="translate(4505,500.5)"><rect x="-60" y="-23" width="120" height="46"/><text y="-9.4"><tspan x="0">positive regulation</tspan><tspan x="0" dy="13.8">of cellular</tspan><tspan x="0" dy="13.8">metabolic process</tspan></text></g>
<g id="n-pcmp" transform="translate(4657,500.5)"><rect x="-69" y="-23" width="138" height="46"/><text y="-9.4"><tspan x="0">phosphate-containing</tspan><tspan x="0" dy="13.8">compound metabolic</tspan><tspan x="0" dy="13.8">process</tspan></text></g>
<g id="n-rphmp" transform="translate(4819.5,500.5)"><rect x="-70.5" y="-23" width="141" height="46"/><text y="-9.4"><tspan x="0">regulation of</tspan><tspan x="0" dy="13.8">phosphorus metabolic</tspan><tspan x="0" dy="13.8">process</tspan></text></g>
<g id="n-ccpt" transform="translate(5013.5,500.5)"><rect x="-51.5" y="-23" width="103" height="46"/><text y="-2.5"><tspan x="0">cell cycle phase</tspan><tspan x="0" dy="13.8">transition</tspan></text></g>
<g id="n-rccp" transform="translate(5145.5,500.5)"><rect x="-56.5" y="-23" width="113" height="46"/><text y="-2.5"><tspan x="0">regulation of</tspan><tspan x="0" dy="13.8">cell cycle process</tspan></text></g>
<g id="n-prnbcmp" transform="translate(3994.5,613.5)"><rect x="-80.5" y="-30.5" width="161" height="61"/><text y="-16.3"><tspan x="0">positive regulation</tspan><tspan x="0" dy="13.8">of nucleobase-containing</tspan><tspan x="0" dy="13.8">compound metabolic</tspan><tspan x="0" dy="13.8">process</tspan></text></g>
<g id="n-phos" transform="translate(4294,613.5)"><rect x="-52" y="-23" width="104" height="46"/><text y="4.4">phosphorylation</text></g>
<g id="n-rpcmp" transform="translate(4657,613.5)"><rect x="-67" y="-23" width="134" height="46"/><text y="-9.4"><tspan x="0">regulation of</tspan><tspan x="0" dy="13.8">phosphate metabolic</tspan><tspan x="0" dy="13.8">process</tspan></text></g>
<g id="n-g1s" transform="translate(4992,613.5)"><rect x="-52" y="-23" width="104" height="46"/><text y="-2.5"><tspan x="0">cell cycle G1/S</tspan><tspan x="0" dy="13.8">phase transition</tspan></text></g>
<g id="n-rccpt" transform="translate(5167.5,613.5)"><rect x="-52.5" y="-23" width="105" height="46"/><text y="-9.4"><tspan x="0">regulation of</tspan><tspan x="0" dy="13.8">cell cycle phase</tspan><tspan x="0" dy="13.8">transition</tspan></text></g>
<g id="n-pp" transform="translate(4003.5,718.5)"><rect x="-75.5" y="-23" width="151" height="46"/><text y="4.4">protein phosphorylation</text></g>
<g id="n-rphos" transform="translate(4294,718.5)"><rect x="-52" y="-23" width="104" height="46"/><text y="-2.5"><tspan x="0">regulation of</tspan><tspan x="0" dy="13.8">phosphorylation</tspan></text></g>
<g id="n-rg1s" transform="translate(5044.5,718.5)"><rect x="-51.5" y="-23" width="103" height="46"/><text y="-9.4"><tspan x="0">regulation of</tspan><tspan x="0" dy="13.8">cell cycle G1/S</tspan><tspan x="0" dy="13.8">phase transition</tspan></text></g>
<g id="n-ptp" transform="translate(3992,823.5)"><rect x="-55" y="-23" width="110" height="46"/><text y="-2.5"><tspan x="0">peptidyl-tyrosine</tspan><tspan x="0" dy="13.8">phosphorylation</tspan></text></g>
<g id="n-rpp" transform="translate(4146,823.5)"><rect x="-75" y="-23" width="150" height="46"/><text y="-2.5"><tspan x="0">regulation of</tspan><tspan x="0" dy="13.8">protein phosphorylation</tspan></text></g>
<g id="n-nrg1s" transform="translate(5037,823.5)"><rect x="-68" y="-23" width="136" height="46"/><text y="-9.4"><tspan x="0">negative regulation</tspan><tspan x="0" dy="13.8">of cell cycle</tspan><tspan x="0" dy="13.8">G1/S phase transition</tspan></text></g>
<g id="n-rptp" transform="translate(4068,936)"><rect x="-55" y="-23" width="110" height="46"/><text y="-9.4"><tspan x="0">regulation of</tspan><tspan x="0" dy="13.8">peptidyl-tyrosine</tspan><tspan x="0" dy="13.8">phosphorylation</tspan></text></g>
<g id="n-tpstat" transform="translate(4225,936)"><rect x="-79" y="-23" width="158" height="46"/><text y="-2.5"><tspan x="0">tyrosine phosphorylation</tspan><tspan x="0" dy="13.8">of STAT protein</tspan></text></g>
<g id="n-rtpstat" transform="translate(4145.5,1043)"><rect class="l" x="-78.5" y="-23" width="157" height="46"/><text y="-9.4"><tspan x="0">regulation of</tspan><tspan x="0" dy="13.8">tyrosine phosphorylation</tspan><tspan x="0" dy="13.8">of STAT protein</tspan></text></g>
<g id="n-rmf" transform="translate(4644,1043)"><rect x="-60" y="-23" width="120" height="46"/><text y="-2.5"><tspan x="0">regulation of</tspan><tspan x="0" dy="13.8">molecular function</tspan></text></g>
<g id="n-rdbtf" transform="translate(4513,1142)"><rect x="-45" y="-30" width="90" height="60"/><text y="-16.3"><tspan x="0">regulation of</tspan><tspan x="0" dy="13.8">DNA-binding</tspan><tspan x="0" dy="13.8">transcription</tspan><tspan x="0" dy="13.8">factor activity</tspan></text></g>
<g id="n-nrmf" transform="translate(4644,1142)"><rect x="-62" y="-24" width="124" height="48"/><text y="-9.4"><tspan x="0">negative regulation</tspan><tspan x="0" dy="13.8">of molecular</tspan><tspan x="0" dy="13.8">function</tspan></text></g>
<g id="n-nrdbtf" transform="translate(4578,1247)"><rect class="c" x="-62" y="-30" width="124" height="60"/><text y="-16.3"><tspan x="0">negative regulation</tspan><tspan x="0" dy="13.8">of DNA-binding</tspan><tspan x="0" dy="13.8">transcription</tspan><tspan x="0" dy="13.8">factor activity</tspan></text></g>
<g id="n-nrnfkb" transform="translate(4578,1352)"><rect class="l" x="-62" y="-30" width="124" height="60"/><text y="-16.3"><tspan x="0">negative regulation</tspan><tspan x="0" dy="13.8">of NF-kappaB</tspan><tspan x="0" dy="13.8">transcription</tspan><tspan x="0" dy="13.8">factor activity</tspan></text></g>
<g id="n-bp" transform="translate(5307.5,27)"><rect x="-59.5" y="-23" width="119" height="46"/><text y="-2.5"><tspan x="0">biological_process</tspan><tspan x="0" dy="13.8">Prmt2</tspan></text></g>
<g id="n-breg" transform="translate(5206.5,117.5)"><rect x="-65.5" y="-23" width="131" height="46"/><text y="4.4">biological regulation</text></g>
<g id="n-cp" transform="translate(5594.5,117.5)"><rect x="-50.5" y="-23" width="101" height="46"/><text y="4.4">cellular process</text></g>
<g id="n-rbiop" transform="translate(5230,209.5)"><rect x="-58" y="-23" width="116" height="46"/><text y="-2.5"><tspan x="0">regulation of</tspan><tspan x="0" dy="13.8">biological process</tspan></text></g>
<g id="n-crs" transform="translate(6273,209.5)"><rect x="-55" y="-23" width="110" height="46"/><text y="-2.5"><tspan x="0">cellular response</tspan><tspan x="0" dy="13.8">to stimulus</tspan></text></g>
<g id="n-prbiop" transform="translate(5181.5,301.5)"><rect x="-60.5" y="-23" width="121" height="46"/><text y="-9.4"><tspan x="0">positive regulation</tspan><tspan x="0" dy="13.8">of biological</tspan><tspan x="0" dy="13.8">process</tspan></text></g>
<g id="n-ccyc" transform="translate(5487.5,301.5)"><rect x="-33.5" y="-23" width="67" height="46"/><text y="4.4">cell cycle</text></g>
<g id="n-rcp" transform="translate(5594.5,301.5)"><rect x="-50.5" y="-23" width="101" height="46"/><text y="-2.5"><tspan x="0">regulation of</tspan><tspan x="0" dy="13.8">cellular process</tspan></text></g>
<g id="n-cd" transform="translate(5724,301.5)"><rect x="-34" y="-23" width="68" height="46"/><text y="4.4">cell death</text></g>
<g id="n-sig" transform="translate(5909.5,301.5)"><rect x="-33.5" y="-23" width="67" height="46"/><text y="4.4">signaling</text></g>
<g id="n-ccom" transform="translate(6029.5,301.5)"><rect x="-62.5" y="-23" width="125" height="46"/><text y="4.4">cell communication</text></g>
<g id="n-rrs" transform="translate(6358.5,301.5)"><rect x="-41.5" y="-23" width="83" height="46"/><text y="-9.4"><tspan x="0">regulation of</tspan><tspan x="0" dy="13.8">response to</tspan><tspan x="0" dy="13.8">stimulus</tspan></text></g>
<g id="n-prcp" transform="translate(5181.5,394)"><rect x="-60.5" y="-23" width="121" height="46"/><text y="-9.4"><tspan x="0">positive regulation</tspan><tspan x="0" dy="13.8">of cellular</tspan><tspan x="0" dy="13.8">process</tspan></text></g>
<g id="n-ccp" transform="translate(5321.5,394)"><rect x="-56.5" y="-23" width="113" height="46"/><text y="4.4">cell cycle process</text></g>
<g id="n-rcc" transform="translate(5492,394)"><rect x="-41" y="-23" width="82" height="46"/><text y="-2.5"><tspan x="0">regulation of</tspan><tspan x="0" dy="13.8">cell cycle</tspan></text></g>
<g id="n-mcc" transform="translate(5593.5,394)"><rect x="-36.5" y="-23" width="73" height="46"/><text y="-2.5"><tspan x="0">mitotic cell</tspan><tspan x="0" dy="13.8">cycle</tspan></text></g>
<g id="n-rcd" transform="translate(5746,394)"><rect x="-42" y="-23" width="84" height="46"/><text y="-2.5"><tspan x="0">regulation of</tspan><tspan x="0" dy="13.8">cell death</tspan></text></g>
<g id="n-pcd" transform="translate(5864.5,394)"><rect x="-53.5" y="-23" width="107" height="46"/><text y="-2.5"><tspan x="0">programmed cell</tspan><tspan x="0" dy="13.8">death</tspan></text></g>
<g id="n-rccom" transform="translate(6008,394)"><rect x="-63" y="-23" width="126" height="46"/><text y="-2.5"><tspan x="0">regulation of</tspan><tspan x="0" dy="13.8">cell communication</tspan></text></g>
<g id="n-rsig" transform="translate(6136,394)"><rect x="-42" y="-23" width="84" height="46"/><text y="-2.5"><tspan x="0">regulation of</tspan><tspan x="0" dy="13.8">signaling</tspan></text></g>
<g id="n-st" transform="translate(6262,394)"><rect x="-61" y="-23" width="122" height="46"/><text y="4.4">signal transduction</text></g>
<g id="n-nrcc" transform="translate(5335.5,500.5)"><rect x="-62.5" y="-23" width="125" height="46"/><text y="-2.5"><tspan x="0">negative regulation</tspan><tspan x="0" dy="13.8">of cell cycle</tspan></text></g>
<g id="n-mccp" transform="translate(5466,500.5)"><rect x="-44" y="-23" width="88" height="46"/><text y="-2.5"><tspan x="0">mitotic cell</tspan><tspan x="0" dy="13.8">cycle process</tspan></text></g>
<g id="n-rmcc" transform="translate(5575,500.5)"><rect x="-41" y="-23" width="82" height="46"/><text y="-9.4"><tspan x="0">regulation of</tspan><tspan x="0" dy="13.8">mitotic cell</tspan><tspan x="0" dy="13.8">cycle</tspan></text></g>
<g id="n-prcd" transform="translate(5747,500.5)"><rect x="-60" y="-23" width="120" height="46"/><text y="-2.5"><tspan x="0">positive regulation</tspan><tspan x="0" dy="13.8">of cell death</tspan></text></g>
<g id="n-rpcd" transform="translate(5933,500.5)"><rect x="-55" y="-23" width="110" height="46"/><text y="-9.4"><tspan x="0">regulation of</tspan><tspan x="0" dy="13.8">programmed cell</tspan><tspan x="0" dy="13.8">death</tspan></text></g>
<g id="n-ap" transform="translate(6067,500.5)"><rect x="-56" y="-23" width="112" height="46"/><text y="4.4">apoptotic process</text></g>
<g id="n-rst" transform="translate(6210,500.5)"><rect x="-61" y="-23" width="122" height="46"/><text y="-2.5"><tspan x="0">regulation of</tspan><tspan x="0" dy="13.8">signal transduction</tspan></text></g>
<g id="n-csrsp" transform="translate(6350.5,500.5)"><rect x="-57.5" y="-23" width="115" height="46"/><text y="-9.4"><tspan x="0">cell surface</tspan><tspan x="0" dy="13.8">receptor signaling</tspan><tspan x="0" dy="13.8">pathway</tspan></text></g>
<g id="n-nrccp" transform="translate(5305,613.5)"><rect x="-63" y="-23" width="126" height="46"/><text y="-9.4"><tspan x="0">negative regulation</tspan><tspan x="0" dy="13.8">of cell cycle</tspan><tspan x="0" dy="13.8">process</tspan></text></g>
<g id="n-mccpt" transform="translate(5430,613.5)"><rect x="-39" y="-23" width="78" height="46"/><text y="-9.4"><tspan x="0">mitotic cell</tspan><tspan x="0" dy="13.8">cycle phase</tspan><tspan x="0" dy="13.8">transition</tspan></text></g>
<g id="n-nrmcc" transform="translate(5601.5,613.5)"><rect x="-62.5" y="-23" width="125" height="46"/><text y="-9.4"><tspan x="0">negative regulation</tspan><tspan x="0" dy="13.8">of mitotic cell</tspan><tspan x="0" dy="13.8">cycle</tspan></text></g>
<g id="n-prpcd" transform="translate(5839,613.5)"><rect x="-60" y="-23" width="120" height="46"/><text y="-9.4"><tspan x="0">positive regulation</tspan><tspan x="0" dy="13.8">of programmed</tspan><tspan x="0" dy="13.8">cell death</tspan></text></g>
<g id="n-rap" transform="translate(5978.5,613.5)"><rect x="-56.5" y="-23" width="113" height="46"/><text y="-2.5"><tspan x="0">regulation of</tspan><tspan x="0" dy="13.8">apoptotic process</tspan></text></g>
<g id="n-rspstat" transform="translate(6326.5,613.5)"><rect x="-57.5" y="-23" width="115" height="46"/><text y="-9.4"><tspan x="0">receptor signaling</tspan><tspan x="0" dy="13.8">pathway via</tspan><tspan x="0" dy="13.8">STAT</tspan></text></g>
<g id="n-g1sm" transform="translate(5167,718.5)"><rect x="-49" y="-23" width="98" height="46"/><text y="-9.4"><tspan x="0">G1/S transition</tspan><tspan x="0" dy="13.8">of mitotic cell</tspan><tspan x="0" dy="13.8">cycle</tspan></text></g>
<g id="n-nrccpt" transform="translate(5301.5,718.5)"><rect x="-62.5" y="-23" width="125" height="46"/><text y="-9.4"><tspan x="0">negative regulation</tspan><tspan x="0" dy="13.8">of cell cycle</tspan><tspan x="0" dy="13.8">phase transition</tspan></text></g>
<g id="n-rmccpt" transform="translate(5430,718.5)"><rect x="-41" y="-30.5" width="82" height="61"/><text y="-16.3"><tspan x="0">regulation of</tspan><tspan x="0" dy="13.8">mitotic cell</tspan><tspan x="0" dy="13.8">cycle phase</tspan><tspan x="0" dy="13.8">transition</tspan></text></g>
<g id="n-prap" transform="translate(5979,718.5)"><rect class="l" x="-60" y="-23" width="120" height="46"/><text y="-9.4"><tspan x="0">positive regulation</tspan><tspan x="0" dy="13.8">of apoptotic</tspan><tspan x="0" dy="13.8">process</tspan></text></g>
<g id="n-irsp" transform="translate(6443.5,718.5)"><rect x="-58.5" y="-23" width="117" height="46"/><text y="-9.4"><tspan x="0">intracellular</tspan><tspan x="0" dy="13.8">receptor signaling</tspan><tspan x="0" dy="13.8">pathway</tspan></text></g>
<g id="n-rg1sm" transform="translate(5176.5,823.5)"><rect x="-47.5" y="-30.5" width="95" height="61"/><text y="-16.3"><tspan x="0">regulation of</tspan><tspan x="0" dy="13.8">G1/S transition</tspan><tspan x="0" dy="13.8">of mitotic cell</tspan><tspan x="0" dy="13.8">cycle</tspan></text></g>
<g id="n-nrmccpt" transform="translate(5429.5,823.5)"><rect x="-62.5" y="-30.5" width="125" height="61"/><text y="-16.3"><tspan x="0">negative regulation</tspan><tspan x="0" dy="13.8">of mitotic cell</tspan><tspan x="0" dy="13.8">cycle phase</tspan><tspan x="0" dy="13.8">transition</tspan></text></g>
<g id="n-jak" transform="translate(5851.5,823.5)"><rect x="-57.5" y="-23" width="115" height="46"/><text y="-9.4"><tspan x="0">receptor signaling</tspan><tspan x="0" dy="13.8">pathway via</tspan><tspan x="0" dy="13.8">JAK-STAT</tspan></text></g>
<g id="n-ishrsp" transform="translate(6443.5,823.5)"><rect x="-58.5" y="-30.5" width="117" height="61"/><text y="-16.3"><tspan x="0">intracellular</tspan><tspan x="0" dy="13.8">steroid hormone</tspan><tspan x="0" dy="13.8">receptor signaling</tspan><tspan x="0" dy="13.8">pathway</tspan></text></g>
<g id="n-nrg1sm" transform="translate(5218,937)"><rect class="c" x="-62" y="-30" width="124" height="60"/><text y="-16.3"><tspan x="0">negative regulation</tspan><tspan x="0" dy="13.8">of G1/S transition</tspan><tspan x="0" dy="13.8">of mitotic cell</tspan><tspan x="0" dy="13.8">cycle</tspan></text></g>
<g id="n-rishrsp" transform="translate(6304.5,937)"><rect x="-57.5" y="-37" width="115" height="74"/><text y="-23.2"><tspan x="0">regulation of</tspan><tspan x="0" dy="13.8">intracellular</tspan><tspan x="0" dy="13.8">steroid hormone</tspan><tspan x="0" dy="13.8">receptor signaling</tspan><tspan x="0" dy="13.8">pathway</tspan></text></g>
<g id="n-arsp" transform="translate(6444,936)"><rect x="-59" y="-23" width="118" height="46"/><text y="-2.5"><tspan x="0">androgen receptor</tspan><tspan x="0" dy="13.8">signaling pathway</tspan></text></g>
<g id="n-rarsp" transform="translate(6374,1043)"><rect class="l" x="-59" y="-23" width="118" height="46"/><text y="-9.4"><tspan x="0">regulation of</tspan><tspan x="0" dy="13.8">androgen receptor</tspan><tspan x="0" dy="13.8">signaling pathway</tspan></text></g>
<g id="n-rs" transform="translate(6697,117.5)"><rect x="-39" y="-23" width="78" height="46"/><text y="-2.5"><tspan x="0">response to</tspan><tspan x="0" dy="13.8">stimulus</tspan></text></g>
<g id="n-growth" transform="translate(7185,117.5)"><rect x="-34" y="-23" width="68" height="46"/><text y="4.4">growth</text></g>
<g id="n-dp" transform="translate(7397.5,117.5)"><rect x="-48.5" y="-23" width="97" height="46"/><text y="-2.5"><tspan x="0">developmental</tspan><tspan x="0" dy="13.8">process</tspan></text></g>
<g id="n-rc" transform="translate(6697,209.5)"><rect x="-39" y="-23" width="78" height="46"/><text y="-2.5"><tspan x="0">response to</tspan><tspan x="0" dy="13.8">chemical</tspan></text></g>
<g id="n-ras" transform="translate(6948.5,209.5)"><rect x="-51.5" y="-23" width="103" height="46"/><text y="-2.5"><tspan x="0">response to</tspan><tspan x="0" dy="13.8">abiotic stimulus</tspan></text></g>
<g id="n-rstress" transform="translate(7078,209.5)"><rect x="-39" y="-23" width="78" height="46"/><text y="-2.5"><tspan x="0">response to</tspan><tspan x="0" dy="13.8">stress</tspan></text></g>
<g id="n-cg" transform="translate(7185,209.5)"><rect x="-36" y="-23" width="72" height="46"/><text y="4.4">cell growth</text></g>
<g id="n-cdp" transform="translate(7325.5,209.5)"><rect x="-72.5" y="-23" width="145" height="46"/><text y="-2.5"><tspan x="0">cellular developmental</tspan><tspan x="0" dy="13.8">process</tspan></text></g>
<g id="n-dg" transform="translate(7470,209.5)"><rect x="-48" y="-23" width="96" height="46"/><text y="-2.5"><tspan x="0">developmental</tspan><tspan x="0" dy="13.8">growth</tspan></text></g>
<g id="n-asd" transform="translate(7608.5,209.5)"><rect x="-66.5" y="-23" width="133" height="46"/><text y="-2.5"><tspan x="0">anatomical structure</tspan><tspan x="0" dy="13.8">development</tspan></text></g>
<g id="n-crcs" transform="translate(6629,301.5)"><rect x="-55" y="-23" width="110" height="46"/><text y="-9.4"><tspan x="0">cellular response</tspan><tspan x="0" dy="13.8">to chemical</tspan><tspan x="0" dy="13.8">stimulus</tspan></text></g>
<g id="n-ros" transform="translate(6766,301.5)"><rect x="-58" y="-23" width="116" height="46"/><text y="-2.5"><tspan x="0">response to</tspan><tspan x="0" dy="13.8">organic substance</tspan></text></g>
<g id="n-res" transform="translate(6979,301.5)"><rect x="-68" y="-23" width="136" height="46"/><text y="-2.5"><tspan x="0">response to</tspan><tspan x="0" dy="13.8">endogenous stimulus</tspan></text></g>
<g id="n-rol" transform="translate(7174,301.5)"><rect x="-45" y="-23" width="90" height="46"/><text y="-2.5"><tspan x="0">response to</tspan><tspan x="0" dy="13.8">oxygen levels</tspan></text></g>
<g id="n-cdiff" transform="translate(7514,301.5)"><rect x="-59" y="-23" width="118" height="46"/><text y="4.4">cell differentiation</text></g>
<g id="n-rcyt" transform="translate(6510.5,394)"><rect x="-38.5" y="-23" width="77" height="46"/><text y="-2.5"><tspan x="0">response to</tspan><tspan x="0" dy="13.8">cytokine</tspan></text></g>
<g id="n-cros" transform="translate(6637.5,394)"><rect x="-66.5" y="-23" width="133" height="46"/><text y="-2.5"><tspan x="0">cellular response</tspan><tspan x="0" dy="13.8">to organic substance</tspan></text></g>
<g id="n-rlip" transform="translate(6766,394)"><rect x="-39" y="-23" width="78" height="46"/><text y="-2.5"><tspan x="0">response to</tspan><tspan x="0" dy="13.8">lipid</tspan></text></g>
<g id="n-rocc" transform="translate(6872.5,394)"><rect x="-43.5" y="-23" width="87" height="46"/><text y="-9.4"><tspan x="0">response to</tspan><tspan x="0" dy="13.8">organic cyclic</tspan><tspan x="0" dy="13.8">compound</tspan></text></g>
<g id="n-rhorm" transform="translate(6978.5,394)"><rect x="-38.5" y="-23" width="77" height="46"/><text y="-2.5"><tspan x="0">response to</tspan><tspan x="0" dy="13.8">hormone</tspan></text></g>
<g id="n-cres" transform="translate(7095,394)"><rect x="-55" y="-23" width="110" height="46"/><text y="-9.4"><tspan x="0">cellular response</tspan><tspan x="0" dy="13.8">to endogenous</tspan><tspan x="0" dy="13.8">stimulus</tspan></text></g>
<g id="n-rdol" transform="translate(7231.5,394)"><rect x="-58.5" y="-23" width="117" height="46"/><text y="-9.4"><tspan x="0">response to</tspan><tspan x="0" dy="13.8">decreased oxygen</tspan><tspan x="0" dy="13.8">levels</tspan></text></g>
<g id="n-cdev" transform="translate(7514.5,394)"><rect x="-55.5" y="-23" width="111" height="46"/><text y="4.4">cell development</text></g>
<g id="n-crcyt" transform="translate(6582,500.5)"><rect x="-55" y="-23" width="110" height="46"/><text y="-9.4"><tspan x="0">cellular response</tspan><tspan x="0" dy="13.8">to cytokine</tspan><tspan x="0" dy="13.8">stimulus</tspan></text></g>
<g id="n-crlip" transform="translate(6714,500.5)"><rect x="-55" y="-23" width="110" height="46"/><text y="-2.5"><tspan x="0">cellular response</tspan><tspan x="0" dy="13.8">to lipid</tspan></text></g>
<g id="n-crocc" transform="translate(6847,500.5)"><rect x="-55" y="-23" width="110" height="46"/><text y="-9.4"><tspan x="0">cellular response</tspan><tspan x="0" dy="13.8">to organic cyclic</tspan><tspan x="0" dy="13.8">compound</tspan></text></g>
<g id="n-rsh" transform="translate(6978.5,500.5)"><rect x="-52.5" y="-23" width="105" height="46"/><text y="-2.5"><tspan x="0">response to</tspan><tspan x="0" dy="13.8">steroid hormone</tspan></text></g>
<g id="n-crhs" transform="translate(7122,500.5)"><rect x="-67" y="-23" width="134" height="46"/><text y="-2.5"><tspan x="0">cellular response</tspan><tspan x="0" dy="13.8">to hormone stimulus</tspan></text></g>
<g id="n-rlep" transform="translate(7249,500.5)"><rect x="-39" y="-23" width="78" height="46"/><text y="-2.5"><tspan x="0">response to</tspan><tspan x="0" dy="13.8">leptin</tspan></text></g>
<g id="n-rhyp" transform="translate(7349,500.5)"><rect class="c" x="-39" y="-23" width="78" height="46"/><text y="-2.5"><tspan x="0">response to</tspan><tspan x="0" dy="13.8">hypoxia</tspan></text></g>
<g id="n-dcg" transform="translate(7514,500.5)"><rect class="c" x="-49" y="-23" width="98" height="46"/><text y="-2.5"><tspan x="0">developmental</tspan><tspan x="0" dy="13.8">cell growth</tspan></text></g>
<g id="n-cmsp" transform="translate(6581.5,613.5)"><rect x="-60.5" y="-23" width="121" height="46"/><text y="-2.5"><tspan x="0">cytokine-mediated</tspan><tspan x="0" dy="13.8">signaling pathway</tspan></text></g>
<g id="n-hmsp" transform="translate(6727.5,613.5)"><rect x="-61.5" y="-23" width="123" height="46"/><text y="-2.5"><tspan x="0">hormone-mediated</tspan><tspan x="0" dy="13.8">signaling pathway</tspan></text></g>
<g id="n-crsh" transform="translate(6872,613.5)"><rect x="-61" y="-23" width="122" height="46"/><text y="-9.4"><tspan x="0">cellular response</tspan><tspan x="0" dy="13.8">to steroid hormone</tspan><tspan x="0" dy="13.8">stimulus</tspan></text></g>
<g id="n-crls" transform="translate(7121,613.5)"><rect x="-56" y="-23" width="112" height="46"/><text y="-2.5"><tspan x="0">cellular response</tspan><tspan x="0" dy="13.8">to leptin stimulus</tspan></text></g>
<g id="n-lmsp" transform="translate(6583,718.5)"><rect class="l" x="-59" y="-23" width="118" height="46"/><text y="-2.5"><tspan x="0">leptin-mediated</tspan><tspan x="0" dy="13.8">signaling pathway</tspan></text></g>
<g id="n-shmsp" transform="translate(6727.5,718.5)"><rect x="-61.5" y="-23" width="123" height="46"/><text y="-9.4"><tspan x="0">steroid hormone</tspan><tspan x="0" dy="13.8">mediated signaling</tspan><tspan x="0" dy="13.8">pathway</tspan></text></g>
</g>
</svg>
